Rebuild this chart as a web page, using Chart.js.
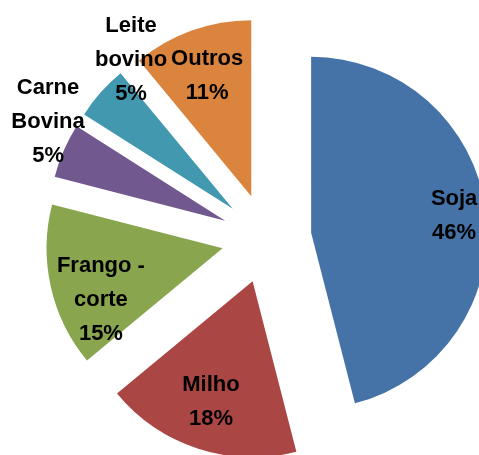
<!DOCTYPE html>
<html>
<head>
<meta charset="utf-8">
<script src="https://cdn.jsdelivr.net/npm/chart.js@4/dist/chart.umd.min.js"></script>
<style>
  html, body { margin: 0; padding: 0; background: #fff; }
  #wrap { width: 479px; height: 455px; }
</style>
</head>
<body>
<div id="wrap"><canvas id="chartPie" width="479" height="455"></canvas></div>
<script>
// Dados (participação %)
const categories = ['Soja', 'Milho', ['Frango -', 'corte'], ['Carne', 'Bovina'], ['Leite', 'bovino'], 'Outros'];
const values = [46, 18, 15, 5, 5, 11];
const colors = ['#4572A7', '#AA4643', '#89A54E', '#71588F', '#4198AF', '#DB843D'];

// posição dos rótulos: fração do raio e desvio angular (graus)
const labelRadius = [0.818, 0.723, 0.751, 1.152, 1.023, 0.726];
const labelShift = [0.5, 1.1, -10.4, 5.7, 14.2, -0.4];

const RADIUS = 176;
const EXPLODE = 45;   // afastamento das fatias (px)
const LINE_H = 34;

// "explode" as fatias: desloca o centro de cada arco na direção da bissetriz
const explode = {
    id: 'explode',
    beforeDatasetsDraw(chart) {
        const ca = chart.chartArea;
        const cx = (ca.left + ca.right) / 2;
        const cy = (ca.top + ca.bottom) / 2;
        chart.getDatasetMeta(0).data.forEach(arc => {
            const half = (arc.startAngle + arc.endAngle) / 2;
            arc.x = cx + Math.cos(half) * EXPLODE;
            arc.y = cy + Math.sin(half) * EXPLODE;
        });
    }
};

// rótulos: nome + percentual
const pieLabels = {
    id: 'pieLabels',
    afterDatasetsDraw(chart) {
        const ctx = chart.ctx;
        const total = values.reduce((a, b) => a + b, 0);
        ctx.save();
        ctx.font = 'bold 22px "Liberation Sans", Arial, sans-serif';
        ctx.fillStyle = '#000';
        ctx.textAlign = 'center';
        ctx.textBaseline = 'middle';
        chart.getDatasetMeta(0).data.forEach((arc, i) => {
            const half = (arc.startAngle + arc.endAngle) / 2;
            const ang = half + labelShift[i] * Math.PI / 180;
            const r = RADIUS * labelRadius[i];
            const x = arc.x + Math.cos(ang) * r;
            const y = arc.y + Math.sin(ang) * r;
            const name = Array.isArray(categories[i]) ? categories[i] : [categories[i]];
            const lines = name.concat(Math.round(values[i] / total * 100) + '%');
            lines.forEach((t, k) => {
                ctx.fillText(t, x, y + (k - (lines.length - 1) / 2) * LINE_H);
            });
        });
        ctx.restore();
    }
};

new Chart(document.getElementById('chartPie').getContext('2d'), {
    type: 'pie',
    data: {
        labels: categories,
        datasets: [{
            data: values,
            backgroundColor: colors,
            borderWidth: 0
        }]
    },
    options: {
        responsive: false,
        animation: false,
        events: [],
        radius: RADIUS,
        layout: { padding: { left: 54, top: 22, right: 0, bottom: 0 } },
        plugins: {
            legend: { display: false },
            tooltip: { enabled: false }
        }
    },
    plugins: [explode, pieLabels]
});
</script>
</body>
</html>
